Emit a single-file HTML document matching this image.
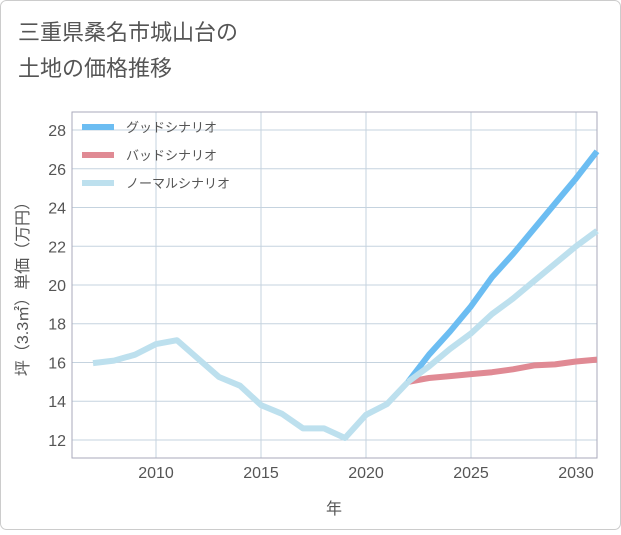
<!DOCTYPE html>
<html><head><meta charset="utf-8"><style>
body{margin:0;background:#fff;}
#c{position:relative;width:621px;height:530px;font-family:"Liberation Sans","Noto Sans CJK JP",sans-serif;}
</style></head><body>
<div id="c">
<svg width="621" height="530" xmlns="http://www.w3.org/2000/svg">
<rect x="0.5" y="0.5" width="620" height="529" rx="6" fill="#fff" stroke="#ccc"/>
<text x="18" y="40" font-size="22" fill="#555" font-family="Liberation Sans, Noto Sans CJK JP, sans-serif">三重県桑名市城山台の</text>
<text x="18" y="76" font-size="22" fill="#555" font-family="Liberation Sans, Noto Sans CJK JP, sans-serif">土地の価格推移</text>
<g id="grid"></g><g id="axes"></g><g id="series"></g>
<g id="legend"></g>
<text x="334" y="514" font-size="16" fill="#555" text-anchor="middle" font-family="Liberation Sans, Noto Sans CJK JP, sans-serif">年</text>
<text transform="translate(28,285) rotate(-90)" font-size="16" fill="#555" text-anchor="middle" font-family="Liberation Sans, Noto Sans CJK JP, sans-serif">坪（3.3㎡）単価（万円）</text>
</svg>
</div>
<script>
const histYears=[2007,2008,2009,2010,2011,2012,2013,2014,2015,2016,2017,2018,2019,2020,2021,2022];
const histValues=[15.97,16.1,16.4,16.95,17.15,16.2,15.25,14.8,13.8,13.35,12.6,12.6,12.1,13.3,13.85,15.0];
const forecastYears=[2022,2023,2024,2025,2026,2027,2028,2029,2030,2031];
const goodValues=[15.0,16.4,17.6,18.9,20.4,21.6,22.9,24.2,25.5,26.9];
const badValues=[15.0,15.2,15.3,15.4,15.5,15.65,15.85,15.9,16.05,16.15];
const normalValues=[15.0,15.8,16.7,17.5,18.5,19.3,20.2,21.1,22.0,22.8];
const xTicks=[2010,2015,2020,2025,2030];
const yTicks=[12,14,16,18,20,22,24,26,28];
const legendLabels=["グッドシナリオ","バッドシナリオ","ノーマルシナリオ"];
const NS="http://www.w3.org/2000/svg";
const L=72,R=597,T=112,B=458,x0=2006,x1=2031,y0=11.07,y1=28.93;
const X=v=>L+(v-x0)/(x1-x0)*(R-L);
const Y=v=>B-(v-y0)/(y1-y0)*(B-T);
function mk(p,tag,a){const e=document.createElementNS(NS,tag);for(const k in a)e.setAttribute(k,a[k]);p.appendChild(e);return e;}
const grid=document.getElementById('grid'),axes=document.getElementById('axes'),series=document.getElementById('series'),legend=document.getElementById('legend');
yTicks.forEach(v=>{
 const l=mk(grid,'line',{x1:L,x2:R,y1:Y(v),y2:Y(v),stroke:'#c5d3df','stroke-width':1});
 
 
 const t=mk(axes,'text',{x:L-6,y:Y(v)+6,'font-size':16,fill:'#555','text-anchor':'end'});
 t.textContent=v;
 
 
});
for(let yr=2007;yr<=2031;yr++){
}
xTicks.forEach(v=>{
 const l=mk(grid,'line',{x1:X(v),x2:X(v),y1:T,y2:B,stroke:'#c5d3df','stroke-width':1});
 
 
 const t=mk(axes,'text',{x:X(v),y:B+20,'font-size':16,fill:'#555','text-anchor':'middle'});
 t.textContent=v;
 
 
});
const fr=mk(axes,'rect',{x:L,y:T,width:R-L,height:B-T,fill:'none',stroke:'#aab',"stroke-width":1});


function line(xs,vs,color,name){
 const d=xs.map((x,i)=>(i?'L':'M')+X(x).toFixed(1)+' '+Y(vs[i]).toFixed(1)).join(' ');
 const p=mk(series,'path',{d:d,fill:'none',stroke:color,'stroke-width':6,'stroke-linejoin':'round'});
 
 
}
line(forecastYears,badValues,'#e08a94','bad-scenario-line');
line(forecastYears,goodValues,'#6cbdf2','good-scenario-line');
line(forecastYears,normalValues,'#bde0ee','normal-scenario-line');
line(histYears,histValues,'#bde0ee','historical-line');
const lc=['#6cbdf2','#e08a94','#bde0ee'];
legendLabels.forEach((s,i)=>{
 const y=127+i*28;
 const l=mk(legend,'line',{x1:82,x2:114,y1:y,y2:y,stroke:lc[i],'stroke-width':6});
 
 
 const t=mk(legend,'text',{x:126,y:y+5,'font-size':13,fill:'#555'});
 t.textContent=s;
 
 
});
</script>
</body></html>
